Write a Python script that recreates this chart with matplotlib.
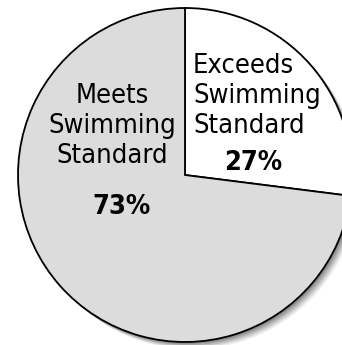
import matplotlib.pyplot as plt
from matplotlib.patches import Circle

# data
labels = ['Exceeds\nSwimming\nStandard', 'Meets\nSwimming\nStandard']
shares = [27, 73]
colors = ['white', '#dcdcdc']

W, H = 342, 345
fig = plt.figure(figsize=(W / 100, H / 100), dpi=100)
ax = fig.add_axes([0, 0, 1, 1])

cx, cy, r = 185, H - 175, 167

# soft drop shadow at lower right
for k, a in enumerate([0.07, 0.09, 0.11, 0.13, 0.15]):
  off = 7 - k * 1.3
  ax.add_patch(Circle((cx + off, cy - off), r, color='black', alpha=a, lw=0, zorder=0))

ax.pie(shares, colors=colors, startangle=90, counterclock=False,
       center=(cx, cy), radius=r, frame=True,
       wedgeprops=dict(edgecolor='black', linewidth=1.3))
ax.set_xlim(0, W)
ax.set_ylim(0, H)
ax.set_aspect('equal')
ax.axis('off')

fs = 19.5
font = dict(family='DejaVu Sans', stretch='condensed')
ax.text(193, H - 96, labels[0], ha='left', va='center', fontsize=fs, linespacing=1.18, **font)
ax.text(253, H - 163, '%d%%' % shares[0], ha='center', va='center', fontsize=fs, fontweight='bold', **font)
ax.text(112, H - 126, labels[1], ha='center', va='center', fontsize=fs, linespacing=1.18, **font)
ax.text(122, H - 207, '%d%%' % shares[1], ha='center', va='center', fontsize=fs, fontweight='bold', **font)

fig.savefig('out.png', dpi=100)
